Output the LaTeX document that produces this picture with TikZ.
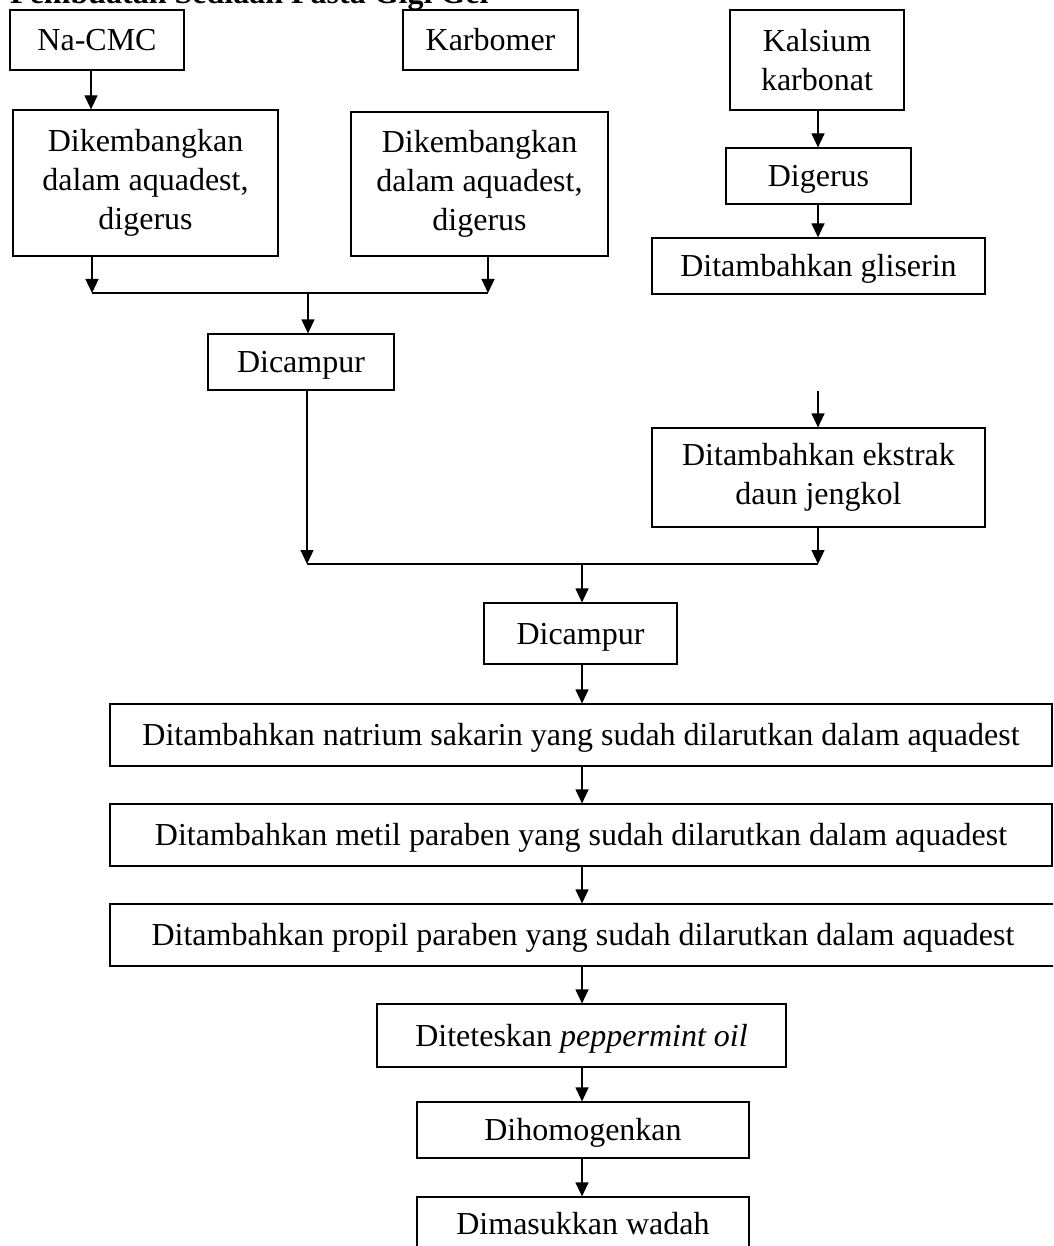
\documentclass[tikz,border=0pt]{standalone}
\usepackage{fontspec}
\setmainfont{Liberation Serif}
\usetikzlibrary{arrows.meta}
\begin{document}
\begin{tikzpicture}[x=1pt,y=-1pt,
  box/.style={draw, line width=1.2pt, inner sep=0pt, align=center, font=\fontsize{32}{39}\selectfont},
  one/.style={text height=21.5pt, text depth=0pt},
  flow/.style={line width=1.2pt, -{Triangle[length=14pt,width=13pt]}},
  plain/.style={line width=1.2pt}]
\clip (0,0) rectangle (1053,1246);
\fill[white] (0,0) rectangle (1053,1246);
\node[anchor=base west, inner sep=0pt, font=\fontsize{32}{39}\selectfont\bfseries] (title) at (10,4) {Pembuatan Sediaan Pasta Gigi Gel};
\node[box, one, minimum width=174pt, minimum height=60pt] (nacmc) at (97,40) {Na-CMC};
\node[box, one, minimum width=175pt, minimum height=60pt] (karb) at (490.5,40) {Karbomer};
\node[box, minimum width=174pt, minimum height=100pt] (kals) at (817,60) {Kalsium\\karbonat};
\node[box, minimum width=265pt, minimum height=146pt] (dik1) at (145.5,183) {Dikembangkan\\dalam aquadest,\\digerus};
\node[box, minimum width=257pt, minimum height=144pt] (dik2) at (479.5,184) {Dikembangkan\\dalam aquadest,\\digerus};
\node[box, one, minimum width=185pt, minimum height=56pt] (dig) at (818.5,176) {Digerus};
\node[box, one, minimum width=333pt, minimum height=56pt] (glis) at (818.5,266) {Ditambahkan gliserin};
\node[box, one, minimum width=186pt, minimum height=56pt] (dc1) at (301,362) {Dicampur};
\node[box, minimum width=333pt, minimum height=99pt] (eks) at (818.5,477.5) {Ditambahkan ekstrak\\daun jengkol};
\node[box, one, minimum width=193pt, minimum height=61pt] (dc2) at (580.5,633.5) {Dicampur};
\node[box, one, minimum width=942pt, minimum height=62pt] (sak) at (581,735) {Ditambahkan natrium sakarin yang sudah dilarutkan dalam aquadest};
\node[box, one, minimum width=942pt, minimum height=62pt] (met) at (581,835) {Ditambahkan metil paraben yang sudah dilarutkan dalam aquadest};
\node[box, one, minimum width=946pt, minimum height=62pt] (prop) at (583,935) {Ditambahkan propil paraben yang sudah dilarutkan dalam aquadest};
\node[box, one, minimum width=409pt, minimum height=63pt] (pep) at (581.5,1035.5) {Diteteskan \textit{peppermint oil}};
\node[box, one, minimum width=332pt, minimum height=56pt] (dih) at (583,1130) {Dihomogenkan};
\node[box, one, minimum width=332pt, minimum height=54pt] (dim) at (583,1224) {Dimasukkan wadah};
\coordinate (a1) at (91,0);
\coordinate (jl) at (92,293);
\coordinate (jr) at (488,293);
\coordinate (jm) at (308,293);
\coordinate (k) at (818,0);
\coordinate (s) at (818,391);
\coordinate (bl) at (307,564);
\coordinate (br) at (818,564);
\coordinate (bm) at (582,564);
\coordinate (c) at (582,0);
\draw[flow] (nacmc.south -| a1) -- (dik1.north -| a1);
\draw[flow] (dik1.south -| jl) -- (jl);
\draw[flow] (dik2.south -| jr) -- (jr);
\draw[plain] (jl) -- (jr);
\draw[flow] (jm) -- (dc1.north -| jm);
\draw[flow] (kals.south -| k) -- (dig.north -| k);
\draw[flow] (dig.south -| k) -- (glis.north -| k);
\draw[flow] (s) -- (eks.north -| s);
\draw[flow] (eks.south -| br) -- (br);
\draw[flow] (dc1.south -| bl) -- (bl);
\draw[plain] (bl) -- (br);
\draw[flow] (bm) -- (dc2.north -| bm);
\draw[flow] (dc2.south -| c) -- (sak.north -| c);
\draw[flow] (sak.south -| c) -- (met.north -| c);
\draw[flow] (met.south -| c) -- (prop.north -| c);
\draw[flow] (prop.south -| c) -- (pep.north -| c);
\draw[flow] (pep.south -| c) -- (dih.north -| c);
\draw[flow] (dih.south -| c) -- (dim.north -| c);
\end{tikzpicture}
\end{document}
